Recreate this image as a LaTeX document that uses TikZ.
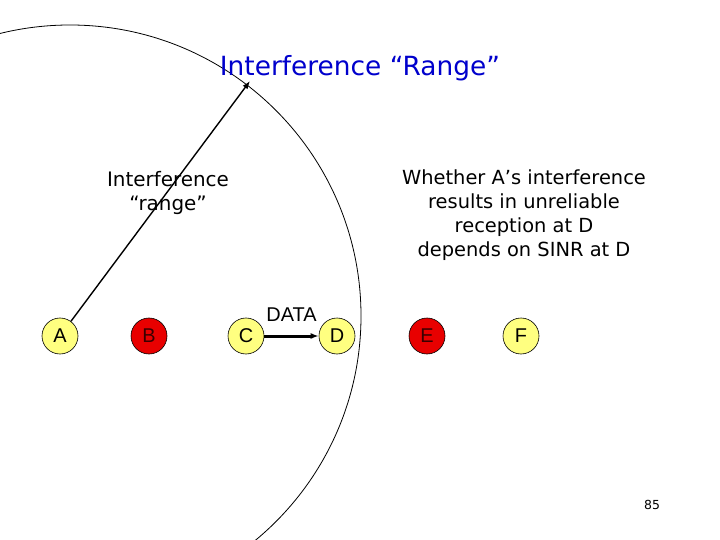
\documentclass[tikz,border=0pt]{standalone}
\usepackage{fontspec}
\setmainfont{DejaVu Sans}
\newfontfamily\arialfont{Liberation Sans}
\usetikzlibrary{arrows.meta}
\definecolor{NodeYellow}{HTML}{FFFF80}
\definecolor{NodeRed}{HTML}{E80000}
\definecolor{TitleBlue}{HTML}{0000CC}

\begin{document}
\begin{tikzpicture}[x=1bp,y=-1bp,
    station/.style={circle,draw=black,line width=.6bp,fill=NodeYellow,minimum size=36bp,inner sep=0pt,font=\arialfont\fontsize{20}{22}\selectfont},
    busy/.style={station,fill=NodeRed,text=black!75!NodeRed},
    note/.style={align=center,font=\fontsize{19.5}{24}\selectfont}]
    \useasboundingbox (0,0) rectangle (720,540);
    % interference range of A
    \begin{scope}
      \clip (0,0) rectangle (720,540);
      \draw[line width=.8bp] (70,316) circle[radius=291];
    \end{scope}
    \node[font=\fontsize{26.5}{28}\selectfont,text=TitleBlue] (title) at (360,68) {Interference “Range”};
    % stations
    \node[station] (a) at (60,336) {A};
    \node[busy] (b) at (149,336) {B};
    \node[station] (c) at (246,336) {C};
    \node[station] (d) at (337,336) {D};
    \node[busy] (e) at (427,336) {E};
    \node[station] (f) at (521,336) {F};
    \coordinate (rim) at (250,81);
    \draw[-{Latex[length=8bp,width=6bp]},line width=1.4bp] (a) -- (rim);
    \draw[-{Latex[length=8bp,width=6bp]},line width=3bp] (c) -- (d) node[midway,above=10bp,font=\arialfont\fontsize{20}{22}\selectfont] (data) {DATA};
    % labels
    \node[note,font=\fontsize{20}{24}\selectfont] (range) at (168,193) {Interference\\“range”};
    \node[note] (sinr) at (524,215) {Whether A’s interference\\results in unreliable\\reception at D\\depends on SINR at D};
    \node[font=\fontsize{12.5}{14}\selectfont] (page) at (652,505) {85};
\end{tikzpicture}
\end{document}
